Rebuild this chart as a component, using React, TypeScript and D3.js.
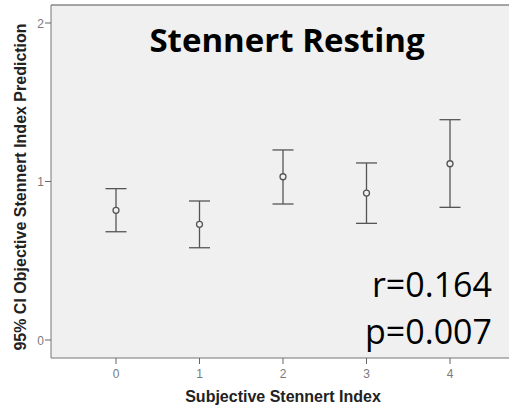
import React from 'react';
import * as d3 from 'd3';

const categories = [0, 1, 2, 3, 4];
const means = [0.818, 0.73, 1.03, 0.927, 1.112];
const lower = [0.683, 0.582, 0.858, 0.736, 0.837];
const upper = [0.955, 0.877, 1.199, 1.117, 1.39];
const yTicks = [0, 1, 2];

const W = 509;
const H = 409;
const plot = { left: 51, top: 5, right: 509, bottom: 358 };

const App = () => {
  const x = d3.scaleLinear().domain([0, 4]).range([116, 450]);
  const y = d3.scaleLinear().domain([0, 2]).range([340, 23]);
  const capW = 10.5;

  return (
    <svg width={W} height={H} style={{ position: 'absolute', left: 0, top: 0 }}>
      <rect x={0} y={0} width={W} height={H} fill="#ffffff" />
      <rect x={plot.left} y={plot.top} width={plot.right - plot.left} height={plot.bottom - plot.top} fill="#f0f0f0" />
      <line x1={plot.left} x2={plot.right} y1={plot.top} y2={plot.top} stroke="#888" strokeWidth={1.5} />
      <line x1={plot.left} x2={plot.left} y1={plot.top} y2={plot.bottom} stroke="#777" strokeWidth={1} />
      <line x1={plot.left} x2={plot.right} y1={plot.bottom} y2={plot.bottom} stroke="#777" strokeWidth={1} />

      {/* y axis ticks */}
      {yTicks.map(t => (
        <g key={'y' + t}>
          <line x1={plot.left - 6} x2={plot.left} y1={y(t)} y2={y(t)} stroke="#666" />
          <text x={plot.left - 7} y={y(t) + 4.5} textAnchor="end" fontFamily="Liberation Sans, Arial, sans-serif" fontSize={12} fill="#7a7a7a">{t}</text>
        </g>
      ))}

      {/* x axis ticks */}
      {categories.map(c => (
        <g key={'x' + c}>
          <line x1={x(c)} x2={x(c)} y1={plot.bottom} y2={plot.bottom + 6} stroke="#666" />
          <text x={x(c)} y={plot.bottom + 20} textAnchor="middle" fontFamily="Liberation Sans, Arial, sans-serif" fontSize={12} fill="#7a7a7a">{c}</text>
        </g>
      ))}

      {/* error bars */}
      {categories.map((c, i) => (
        <g key={'e' + c} stroke="#555" strokeWidth={1.3} fill="none">
          <line x1={x(c)} x2={x(c)} y1={y(upper[i])} y2={y(lower[i])} />
          <line x1={x(c) - capW} x2={x(c) + capW} y1={y(upper[i])} y2={y(upper[i])} />
          <line x1={x(c) - capW} x2={x(c) + capW} y1={y(lower[i])} y2={y(lower[i])} />
          <circle cx={x(c)} cy={y(means[i])} r={3} fill="#f0f0f0" />
        </g>
      ))}

      <text x={287} y={52} textAnchor="middle" fontFamily="Open Sans, sans-serif" fontWeight="bold" fontSize={33} fill="#000">Stennert Resting</text>
      <text x={492} y={297} textAnchor="end" fontFamily="Open Sans, sans-serif" fontSize={34} fill="#000">r=0.164</text>
      <text x={492} y={344} textAnchor="end" fontFamily="Open Sans, sans-serif" fontSize={34} fill="#000">p=0.007</text>

      <text x={283} y={402} textAnchor="middle" fontFamily="Liberation Sans, Arial, sans-serif" fontWeight="bold" fontSize={16} fill="#222">Subjective Stennert Index</text>
      <text transform="translate(26,187) rotate(-90)" textAnchor="middle" fontFamily="Liberation Sans, Arial, sans-serif" fontWeight="bold" fontSize={16} fill="#222">95% CI Objective Stennert Index Prediction</text>
    </svg>
  );
};

export default App;
